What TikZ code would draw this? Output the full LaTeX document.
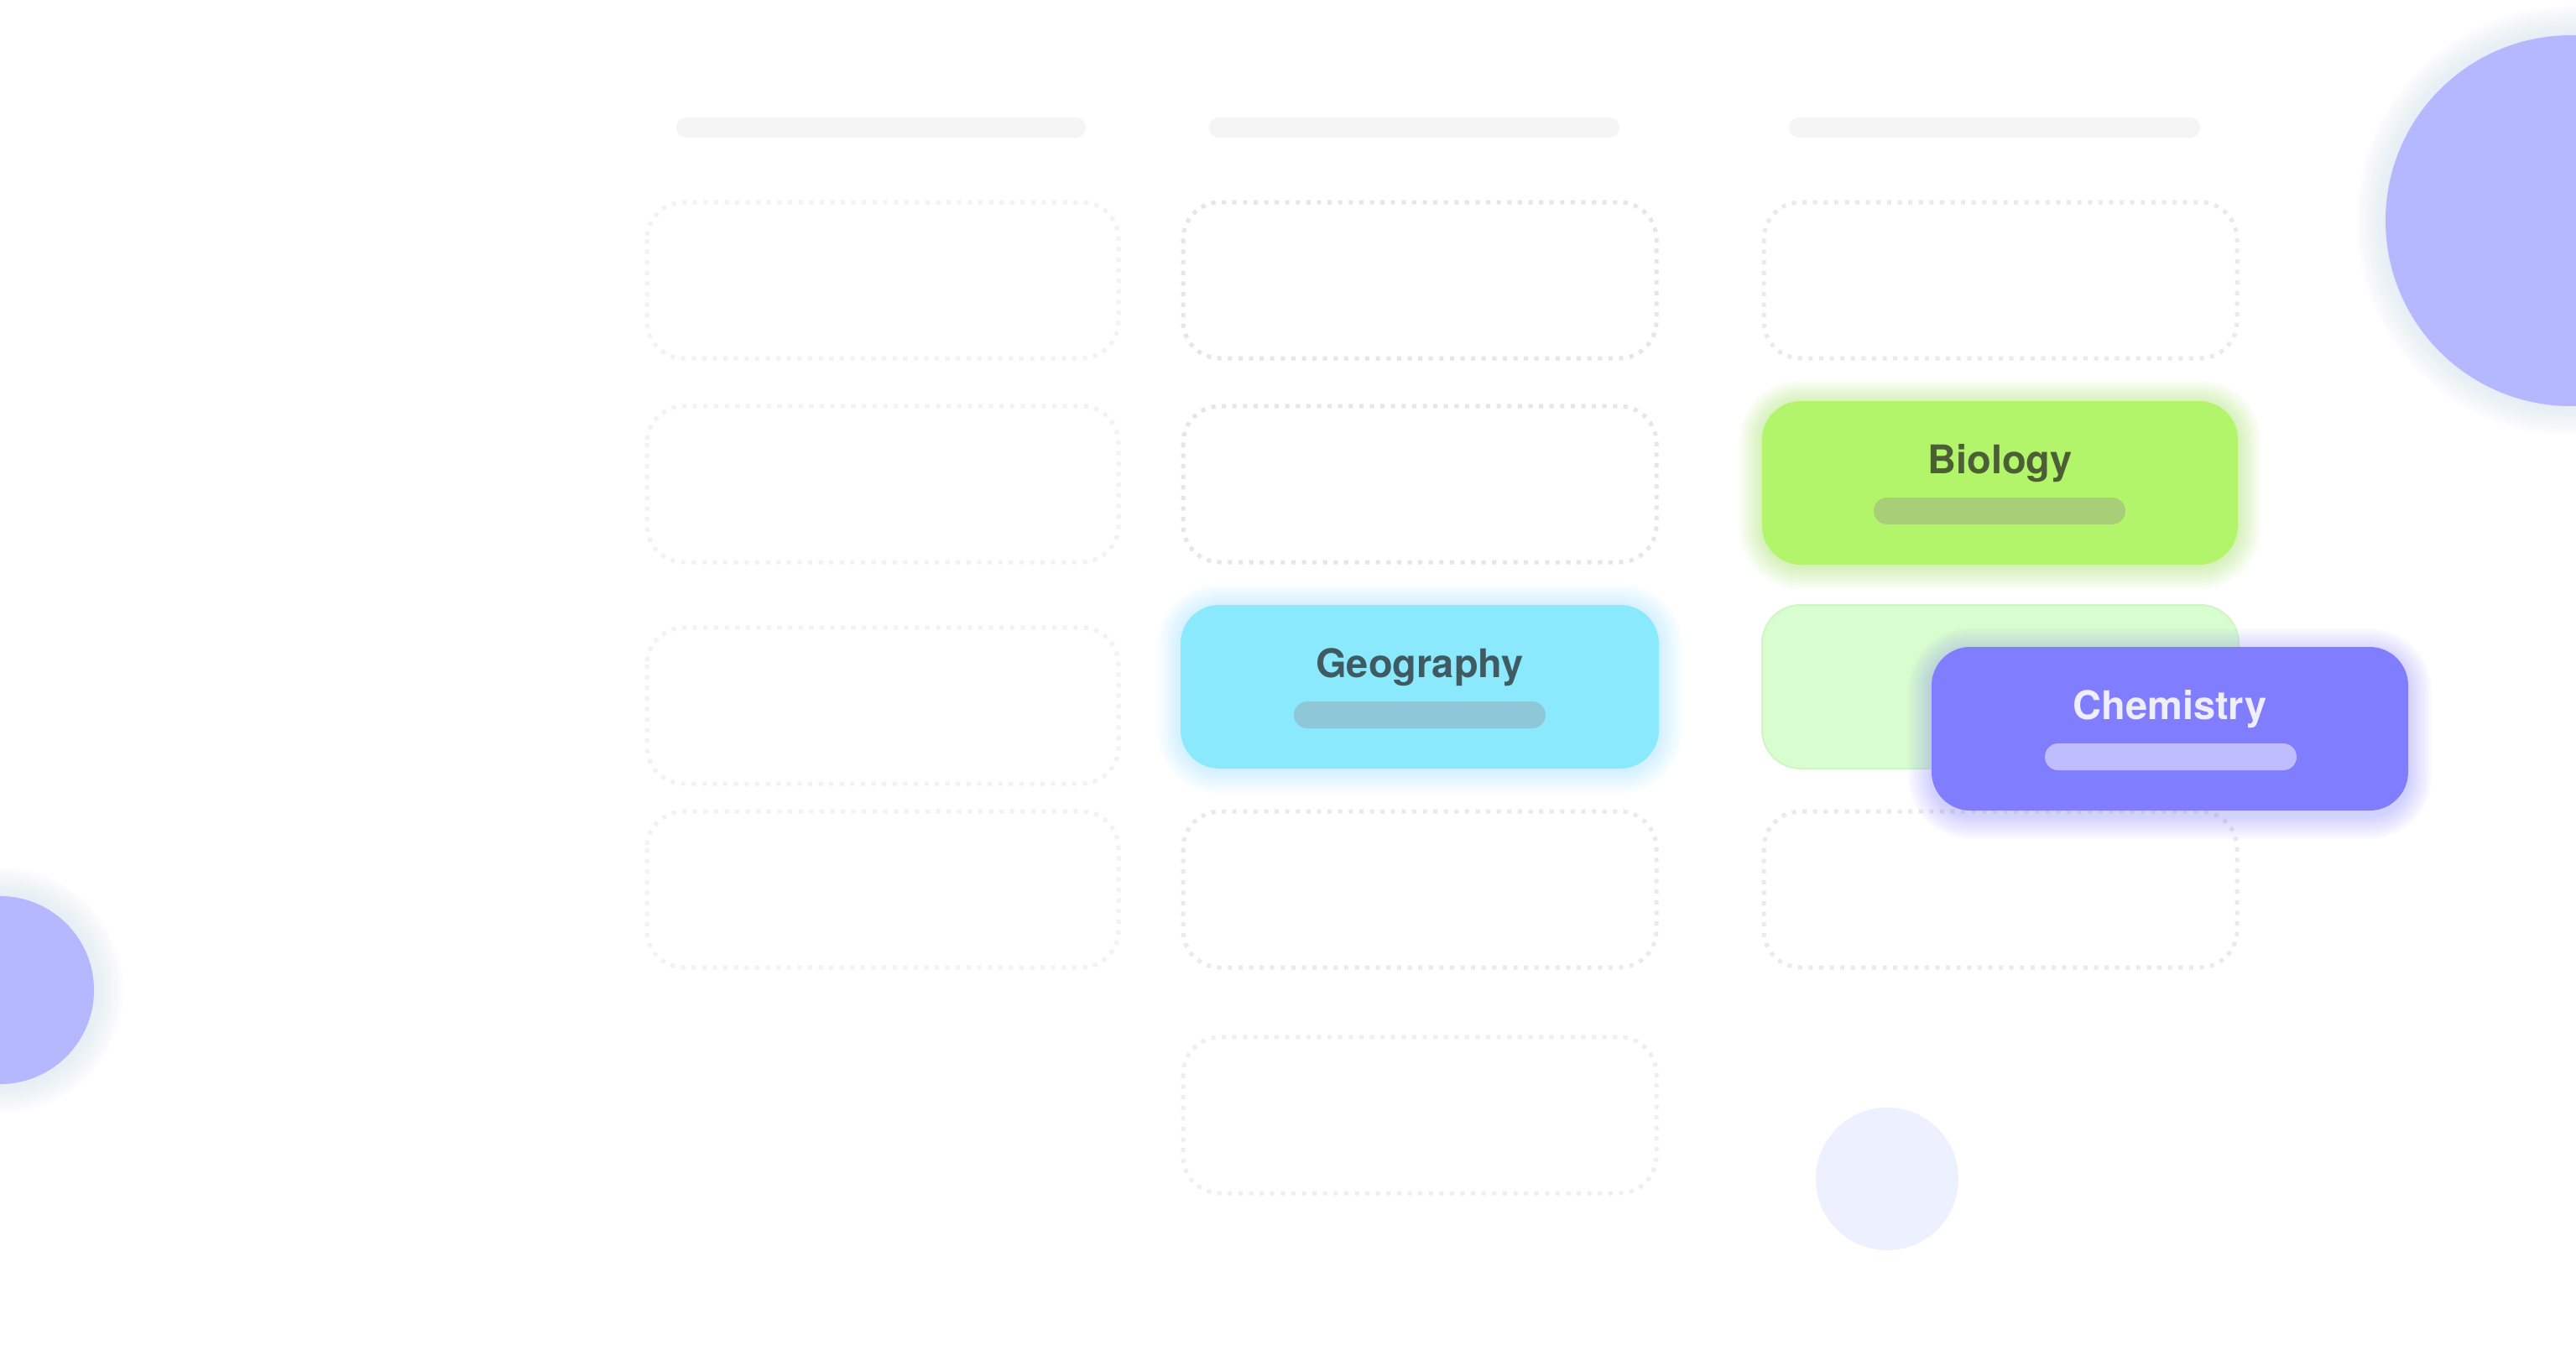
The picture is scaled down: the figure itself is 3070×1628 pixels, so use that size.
\documentclass[tikz,border=0pt]{standalone}
\usepackage{fontspec}
\setmainfont{TeX Gyre Heros}
\definecolor{hdr}{HTML}{F5F5F5}
\definecolor{slotA}{HTML}{F2F2F2}
\definecolor{slotB}{HTML}{E6E6E6}
\definecolor{slotC}{HTML}{EAEAEA}
\definecolor{slotD}{HTML}{EFEFEF}
\definecolor{bioFill}{HTML}{B2F56A}
\definecolor{bioText}{HTML}{4B5E35}
\definecolor{bioBar}{HTML}{A8CE78}
\definecolor{bioGlow}{HTML}{A6EE5E}
\definecolor{geoFill}{HTML}{8BE9FE}
\definecolor{geoText}{HTML}{3F5A60}
\definecolor{geoBar}{HTML}{8EC8D8}
\definecolor{geoGlow}{HTML}{7FE5FF}
\definecolor{chemFill}{HTML}{807DFF}
\definecolor{chemText}{HTML}{EEEEFF}
\definecolor{chemBar}{HTML}{BFBDFF}
\definecolor{chemGlow}{HTML}{7A76FF}
\definecolor{paleGreen}{HTML}{D8FDCE}
\definecolor{paleGreenLine}{HTML}{CFF6C4}
\definecolor{blobFill}{HTML}{B5B8FF}
\definecolor{blobGlow}{HTML}{B9C6F5}
\definecolor{paleBlob}{HTML}{EDF0FF}
\tikzset{
  slotbox/.style={line width=2.5pt, dash pattern=on 2.5pt off 3.8pt, rounded corners=22pt},
  hdrbar/.style={fill=hdr, rounded corners=6pt},
  cardshape/.style={rounded corners=23pt},
  cardbar/.style={rounded corners=8pt},
  cardtext/.style={anchor=base, inner sep=0pt, font=\fontsize{23.5pt}{27pt}\selectfont\bfseries}
}
\newcommand\glowbox[7]{%
  \foreach \i in {1,...,14}{%
    \fill[#5, opacity=#7, rounded corners={(23+1*\i)*1pt}]
      ({#1-\i*2},{#2-\i*2+#6}) rectangle ({#3+\i*2},{#4+\i*2+#6});
  }%
}
\newcommand\glowdisc[4]{%
  \foreach \i in {1,...,14}{%
    \fill[#4, opacity=0.02] (#1,#2) circle ({(#3+\i*2.5)*0.5pt});
  }%
}
\begin{document}
\begin{tikzpicture}[x=0.5pt,y=-0.5pt]
\useasboundingbox (0,0) rectangle (3070,1628);
\fill[white] (0,0) rectangle (3070,1628);

% column header bars
\fill[hdrbar] (806,140) rectangle (1294,164);
\fill[hdrbar] (1441,140) rectangle (1930,164);
\fill[hdrbar] (2132,140) rectangle (2622,164);

% column 1 slots
\draw[slotbox, draw=slotA] (771,241) rectangle (1333,427);
\draw[slotbox, draw=slotA] (771,484) rectangle (1333,670);
\draw[slotbox, draw=slotA] (771,748) rectangle (1333,934);
\draw[slotbox, draw=slotA] (771,967) rectangle (1333,1153);

% column 2 slots
\draw[slotbox, draw=slotB] (1410,241) rectangle (1974,427);
\draw[slotbox, draw=slotB] (1410,484) rectangle (1974,670);
\draw[slotbox, draw=slotC] (1410,967) rectangle (1974,1153);
\draw[slotbox, draw=slotD] (1410,1236) rectangle (1974,1422);

% column 3 slots
\draw[slotbox, draw=slotC] (2102,241) rectangle (2666,427);
\draw[slotbox, draw=slotC] (2102,967) rectangle (2666,1153);

% decorative circles
\glowdisc{3064}{263}{221}{blobGlow}
\fill[blobFill] (3064,263) circle (110.5pt);
\glowdisc{0}{1180}{112}{blobGlow}
\fill[blobFill] (0,1180) circle (56pt);
\fill[paleBlob] (2249,1405) circle (42.5pt);

% pale green card
\fill[paleGreen, draw=paleGreenLine, line width=1pt, cardshape] (2100,721) rectangle (2668,916);

% Geography card
\glowbox{1407}{721}{1977}{916}{geoGlow}{2}{0.025}
\fill[geoFill, cardshape] (1407,721) rectangle (1977,916);
\node[cardtext, text=geoText] (geography) at (1692,807) {Geography};
\fill[geoBar, cardbar] (1542,836) rectangle (1842,868);

% Biology card
\glowbox{2100}{478}{2667}{673}{bioGlow}{2}{0.03}
\fill[bioFill, cardshape] (2100,478) rectangle (2667,673);
\node[cardtext, text=bioText] (biology) at (2383.5,564) {Biology};
\fill[bioBar, cardbar] (2233,593) rectangle (2533,625);

% Chemistry card
\glowbox{2302}{771}{2870}{966}{chemGlow}{6}{0.025}
\fill[chemFill, cardshape] (2302,771) rectangle (2870,966);
\node[cardtext, text=chemText] (chemistry) at (2586,857) {Chemistry};
\fill[chemBar, cardbar] (2437,886) rectangle (2737,918);
\end{tikzpicture}
\end{document}
